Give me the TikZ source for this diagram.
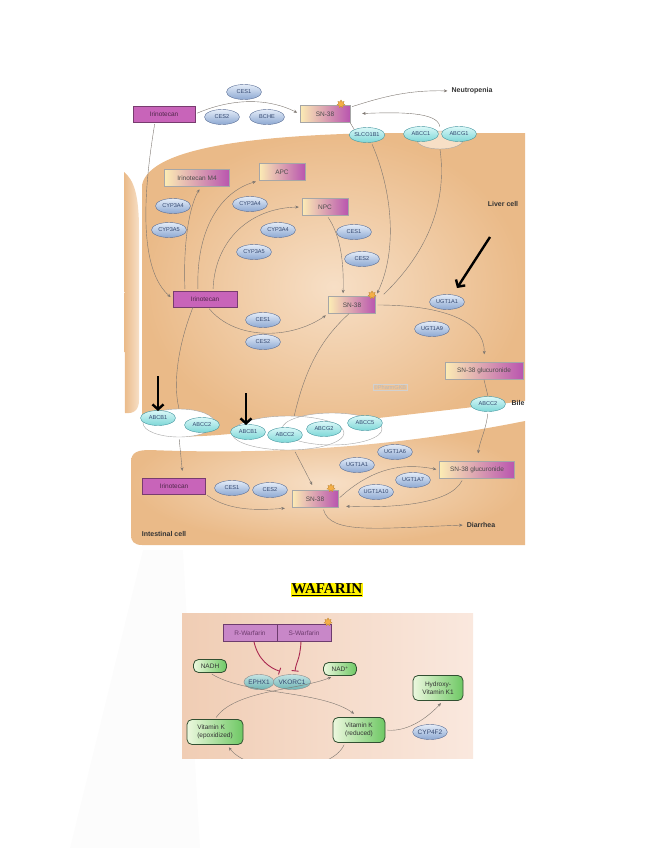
\documentclass[tikz,border=0pt]{standalone}
\usepackage{fontspec}
\setmainfont{Liberation Serif}
\setsansfont{Liberation Sans}
\usepackage{tikz}
\usetikzlibrary{arrows,arrows.meta,shapes,calc}

\definecolor{CellTan}{RGB}{234,186,136}
\definecolor{CellLight}{RGB}{247,223,198}
\definecolor{IrinoPurple}{RGB}{200,100,185}
\definecolor{MetaYellow}{RGB}{252,236,180}
\definecolor{MetaPurple}{RGB}{185,85,175}
\definecolor{EnzLight}{RGB}{228,236,248}
\definecolor{EnzBlue}{RGB}{140,168,210}
\definecolor{EnzEdge}{RGB}{90,110,150}
\definecolor{EnzText}{RGB}{50,70,110}
\definecolor{TransLight}{RGB}{218,248,248}
\definecolor{TransCyan}{RGB}{125,215,215}
\definecolor{TransEdge}{RGB}{70,150,160}
\definecolor{FlowGray}{RGB}{125,118,112}
\definecolor{WarfLeft}{RGB}{240,205,180}
\definecolor{WarfRight}{RGB}{250,232,222}
\definecolor{WarfPurple}{RGB}{200,135,200}
\definecolor{WarfEdge}{RGB}{110,60,110}
\definecolor{VitLight}{RGB}{236,248,222}
\definecolor{VitGreen}{RGB}{110,200,100}
\definecolor{VitEdge}{RGB}{50,80,50}
\definecolor{VkLight}{RGB}{195,228,228}
\definecolor{VkTeal}{RGB}{110,180,180}
\definecolor{InhibRed}{RGB}{170,40,80}
\definecolor{SunOrange}{RGB}{245,175,70}

\newcommand{\boxfont}{\sffamily\fontsize{6.5}{7.5}\selectfont}
\newcommand{\ovalfont}{\sffamily\fontsize{5.6}{6.5}\selectfont}
\newcommand{\tagfont}{\sffamily\bfseries\fontsize{7}{8}\selectfont}
\newcommand{\warffont}{\sffamily\fontsize{6.5}{7.5}\selectfont}
\newcommand{\headfont}{\rmfamily\bfseries\fontsize{15}{17}\selectfont}

\tikzstyle{drug} = [rectangle, draw=IrinoPurple!60!black, fill=IrinoPurple,
text=IrinoPurple!40!black, font=\boxfont, inner sep=0pt, minimum height=16]
\tikzstyle{metab} = [rectangle, draw=black!35, left color=MetaYellow,
right color=MetaPurple, text=black!70, font=\boxfont, inner sep=0pt,
minimum height=17]
\tikzstyle{enzyme} = [ellipse, draw=EnzEdge, top color=EnzLight,
bottom color=EnzBlue, text=EnzText, font=\ovalfont, inner sep=0pt,
minimum width=35, minimum height=15]
\tikzstyle{transporter} = [ellipse, draw=TransEdge, top color=TransLight,
bottom color=TransCyan, text=EnzText, font=\ovalfont, inner sep=0pt,
minimum width=35, minimum height=15]
\tikzstyle{loop} = [ellipse, draw=black!35, inner sep=0pt]
\tikzstyle{link} = [draw=FlowGray, thin, shorten <=2pt, shorten >=3pt,
-{Stealth[length=3.5pt, width=3pt]}]
\tikzstyle{flow} = [draw=FlowGray, thin]
\tikzstyle{pointer} = [draw=black, line width=2.4pt,
-{Straight Barb[length=5pt, width=11pt]}]
\tikzstyle{tag} = [font=\tagfont, text=black!80, inner sep=1pt]
\tikzstyle{watermark} = [draw=black!18, text=black!28, font=\ovalfont, inner sep=1pt]
\tikzstyle{burst} = [star, star points=7, star point ratio=1.7, fill=SunOrange,
draw=SunOrange!80!black, inner sep=0pt, minimum size=8]
\tikzstyle{warfbox} = [rectangle, draw=WarfEdge, fill=WarfPurple,
text=WarfEdge, font=\warffont, inner sep=0pt, minimum height=17]
\tikzstyle{vitamin} = [rectangle, rounded corners=5pt, draw=VitEdge,
line width=0.8pt, left color=VitLight, right color=VitGreen,
text=black!80, font=\warffont, inner sep=2pt]
\tikzstyle{vkenzyme} = [ellipse, draw=black!45, top color=VkLight,
bottom color=VkTeal, text=EnzText, font=\warffont, inner sep=0pt,
minimum width=30, minimum height=15]
\tikzstyle{inhib} = [draw=InhibRed, line width=0.9pt, -{Bar[width=7pt]}]

\begin{document}
\begin{tikzpicture}[x=1pt, y=-1pt]
	\useasboundingbox (0,0) rectangle (655,848);
	\fill[black!1.2] (143,550) -- (183,550) -- (200,848) -- (70,848) -- cycle;

	% cells
	\shade[left color=CellTan, right color=CellLight] (124,172) .. controls (134,180) and (139,195) .. (139,230)
		-- (139,400) .. controls (139,410) and (134,414) .. (125,413) -- cycle;
	\shade[inner color=CellLight, outer color=CellTan] (142,185) .. controls (150,145) and (270,135) .. (380,133)
		-- (525,133) -- (525,401) .. controls (430,412) and (330,424) .. (240,433)
		.. controls (190,438) and (150,440) .. (142,420) -- cycle;
	\shade[inner color=CellLight, outer color=CellTan] (131,462) .. controls (131,452) and (138,450) .. (150,450)
		.. controls (300,456) and (420,442) .. (525,421) -- (525,545) -- (142,545)
		.. controls (134,545) and (131,541) .. (131,535) -- cycle;

	% transporter loops
	\fill[white] (179,423) ellipse [x radius=36, y radius=14];
	\fill[white] (288,433) ellipse [x radius=56, y radius=17];
	\fill[white] (332,429) ellipse [x radius=50, y radius=16];
	\node[loop, minimum width=72, minimum height=28] (loopLeft) at (179,423) {};
	\node[loop, minimum width=112, minimum height=34] (loopMidA) at (288,433) {};
	\node[loop, minimum width=100, minimum height=32] (loopMidB) at (332,429) {};
	\node[loop, fill=CellLight, minimum width=46, minimum height=18] (loopTop) at (440,140) {};

	% blood
	\node[drug, minimum width=62] (irinoBlood) at (164,114) {Irinotecan};
	\node[enzyme] (ces1Blood) at (244,92) {CES1};
	\node[enzyme] (ces2Blood) at (222,117) {CES2};
	\node[enzyme] (bcheBlood) at (267,117) {BCHE};
	\node[metab, minimum width=50] (snBlood) at (325,114) {SN-38};
	\node[burst] (snBloodStar) at (341,104) {};
	\node[tag] (neutro) at (472,91) {Neutropenia};
	\node[transporter] (slco) at (367,135) {SLCO1B1};
	\node[transporter] (abcc1) at (421,134) {ABCC1};
	\node[transporter] (abcg1) at (459,134) {ABCG1};

	% liver cell
	\node[metab, minimum width=65] (m4) at (197,178) {Irinotecan M4};
	\node[metab, minimum width=46] (apc) at (282,172) {APC};
	\node[enzyme] (cyp3a4L) at (173,206) {CYP3A4};
	\node[enzyme] (cyp3a5L) at (169,230) {CYP3A5};
	\node[enzyme] (cyp3a4M) at (250,204) {CYP3A4};
	\node[metab, minimum width=46] (npc) at (325,207) {NPC};
	\node[enzyme] (cyp3a4N) at (278,230) {CYP3A4};
	\node[enzyme] (cyp3a5N) at (254,252) {CYP3A5};
	\node[enzyme] (ces1Npc) at (354,232) {CES1};
	\node[enzyme] (ces2Npc) at (362,259) {CES2};
	\node[tag] (liverLbl) at (503,204) {Liver cell};
	\node[drug, minimum width=64] (irinoLiver) at (205,299) {Irinotecan};
	\node[metab, minimum width=47] (snLiver) at (352,305) {SN-38};
	\node[burst] (snLiverStar) at (372,295) {};
	\node[enzyme] (ugt1a1L) at (447,302) {UGT1A1};
	\node[enzyme] (ugt1a9L) at (432,329) {UGT1A9};
	\node[enzyme] (ces1Liver) at (263,320) {CES1};
	\node[enzyme] (ces2Liver) at (263,342) {CES2};
	\node[metab, minimum width=78] (glucLiver) at (484,371) {SN-38 glucuronide};
	\node[watermark] (pharm) at (390,387) {\textcopyright PharmGKB};
	\node[transporter] (abcc2Bile) at (488,404) {ABCC2};
	\node[tag] (bileLbl) at (518,403) {Bile};

	% membrane
	\node[transporter] (abcb1L) at (158,418) {ABCB1};
	\node[transporter] (abcc2L) at (202,425) {ABCC2};
	\node[transporter] (abcb1M) at (248,432) {ABCB1};
	\node[transporter] (abcc2M) at (285,435) {ABCC2};
	\node[transporter] (abcg2M) at (324,429) {ABCG2};
	\node[transporter] (abcc5M) at (365,423) {ABCC5};

	% intestinal cell
	\node[drug, minimum width=63] (irinoGut) at (174,486) {Irinotecan};
	\node[enzyme] (ces1Gut) at (232,488) {CES1};
	\node[enzyme] (ces2Gut) at (270,490) {CES2};
	\node[metab, minimum width=46] (snGut) at (315,499) {SN-38};
	\node[burst] (snGutStar) at (331,488) {};
	\node[enzyme] (ugt1a1G) at (357,465) {UGT1A1};
	\node[enzyme] (ugt1a6G) at (395,452) {UGT1A6};
	\node[enzyme] (ugt1a7G) at (413,480) {UGT1A7};
	\node[enzyme] (ugt1a10G) at (376,492) {UGT1A10};
	\node[metab, minimum width=75] (glucGut) at (477,470) {SN-38 glucuronide};
	\node[tag] (diarrhea) at (481,525) {Diarrhea};
	\node[tag] (gutLbl) at (164,534) {Intestinal cell};

	% pathway
	\draw[link] (irinoBlood.east) .. controls (235,97) and (270,99) .. (snBlood.west);
	\draw[link] (snBlood.15) .. controls (385,96) and (410,90) .. (neutro.west);
	\draw[link, shorten >=12pt] ($(abcc1.north east)!0.5!(abcg1.north west)$) .. controls (438,112) and (400,112) .. (snBlood.east);
	\draw[flow] (snBlood.south east) -- (slco.north west);
	\draw[link] ($(irinoBlood.south)+(-9,0)$) .. controls (142,200) and (140,270) .. (irinoLiver.west);
	\draw[link] ($(irinoLiver.north)+(-20,0)$) .. controls (183,240) and (190,205) .. ($(m4.south)+(4,0)$);
	\draw[link] ($(irinoLiver.north)+(-7,0)$) .. controls (196,230) and (220,192) .. (apc.south west);
	\draw[link] ($(irinoLiver.north)+(8,0)$) .. controls (215,240) and (250,208) .. (npc.west);
	\draw[link] ($(npc.south)+(2,0)$) .. controls (340,235) and (344,260) .. ($(snLiver.north)+(-9,0)$);
	\draw[link] (slco.-60) .. controls (392,190) and (398,250) .. (snLiver.north east);
	\draw[flow] ($(snLiver.north east)+(8,-2)$) .. controls (430,250) and (447,200) .. (loopTop.south);
	\draw[link] ($(irinoLiver.south)+(3,0)$) .. controls (235,340) and (290,340) .. (snLiver.south west);
	\draw[link, shorten >=8pt] (snLiver.east) .. controls (440,305) and (485,320) .. (glucLiver.north);
	\draw[flow] (glucLiver.south) -- (abcc2Bile.north);
	\draw[link, shorten >=8pt] (abcc2Bile.south) .. controls (486,430) and (480,440) .. (glucGut.north);
	\draw[flow] ($(irinoLiver.south)+(-12,0)$) .. controls (180,340) and (172,380) .. (loopLeft.north);
	\draw[flow] ($(snLiver.south)+(-3,0)$) .. controls (320,340) and (305,370) .. (loopMidA.70);
	\draw[link, shorten >=7pt] (loopLeft.south) -- ($(irinoGut.north)+(9,0)$);
	\draw[link, shorten >=6pt] (loopMidA.-70) -- (snGut.north);
	\draw[link, shorten >=7pt] (irinoGut.south east) .. controls (230,512) and (262,510) .. (snGut.south west);
	\draw[link] (snGut.east) .. controls (370,470) and (400,462) .. (glucGut.west);
	\draw[link, shorten >=8pt] ($(glucGut.south)+(-14,0)$) .. controls (450,505) and (390,508) .. ($(snGut.east)+(0,7)$);
	\draw[link] ($(snGut.south)+(8,0)$) .. controls (330,535) and (380,528) .. (diarrhea.west);

	% marked genes
	\coordinate (ptrUgtTail) at (490,237);
	\coordinate (ptrUgtTip) at (457,288);
	\coordinate (ptrLeftTail) at (158,376);
	\coordinate (ptrLeftTip) at (158,411);
	\coordinate (ptrMidTail) at (246,393);
	\coordinate (ptrMidTip) at (246,425);
	\draw[pointer] (ptrUgtTail) -- (ptrUgtTip);
	\draw[pointer] (ptrLeftTail) -- (ptrLeftTip);
	\draw[pointer] (ptrMidTail) -- (ptrMidTip);

	% warfarin
	\node[fill=yellow, inner sep=1.2pt, font=\headfont] (warfTitle) at (327,590) {\underline{WAFARIN}};
	\shade[left color=WarfLeft, right color=WarfRight] (182,613) rectangle (473,758);
	\node[warfbox, minimum width=54] (rWarf) at (250,633) {R-Warfarin};
	\node[warfbox, minimum width=54] (sWarf) at (304,633) {S-Warfarin};
	\node[burst] (warfStar) at (328,622) {};
	\node[vitamin, minimum width=33, minimum height=13] (nadh) at (210,666) {NADH};
	\node[vitamin, minimum width=33, minimum height=13] (nadPlus) at (340,669) {NAD\textsuperscript{+}};
	\node[vkenzyme] (ephx1) at (259,682) {EPHX1};
	\node[vkenzyme] (vkorc1) at (292,682) {VKORC1};
	\node[vitamin, minimum width=50, minimum height=25, align=center] (hydroxyK) at (438,688) {Hydroxy-\\Vitamin K1};
	\node[vitamin, minimum width=56, minimum height=25, align=left] (vitKepox) at (215,732) {Vitamin K\\(epoxidized)};
	\node[vitamin, minimum width=52, minimum height=25, align=left] (vitKred) at (359,730) {Vitamin K\\(reduced)};
	\node[enzyme, minimum width=33, font=\warffont] (cyp4f2) at (430,732) {CYP4F2};

	\draw[inhib] ($(rWarf.south)+(4,0)$) .. controls (258,660) and (270,668) .. ($(vkorc1.north)+(-12,-3)$);
	\draw[inhib] ($(sWarf.south)+(-3,0)$) .. controls (300,660) and (296,662) .. ($(vkorc1.north)+(3,-3)$);
	\draw[link, shorten >=6pt] (nadh.south) .. controls (245,695) and (320,690) .. (vitKred.north);
	\draw[link] (vitKepox.north) .. controls (235,690) and (300,690) .. ($(nadPlus.south)+(-6,0)$);
	\draw[link] (vitKred.east) .. controls (410,732) and (430,715) .. ($(hydroxyK.south)+(5,0)$);
	\begin{scope}
		\clip (182,613) rectangle (473,758);
		\draw[link] ($(vitKred.south)+(-14,0)$) .. controls (330,775) and (250,775) .. ($(vitKepox.south)+(12,0)$);
	\end{scope}
\end{tikzpicture}
\end{document}
